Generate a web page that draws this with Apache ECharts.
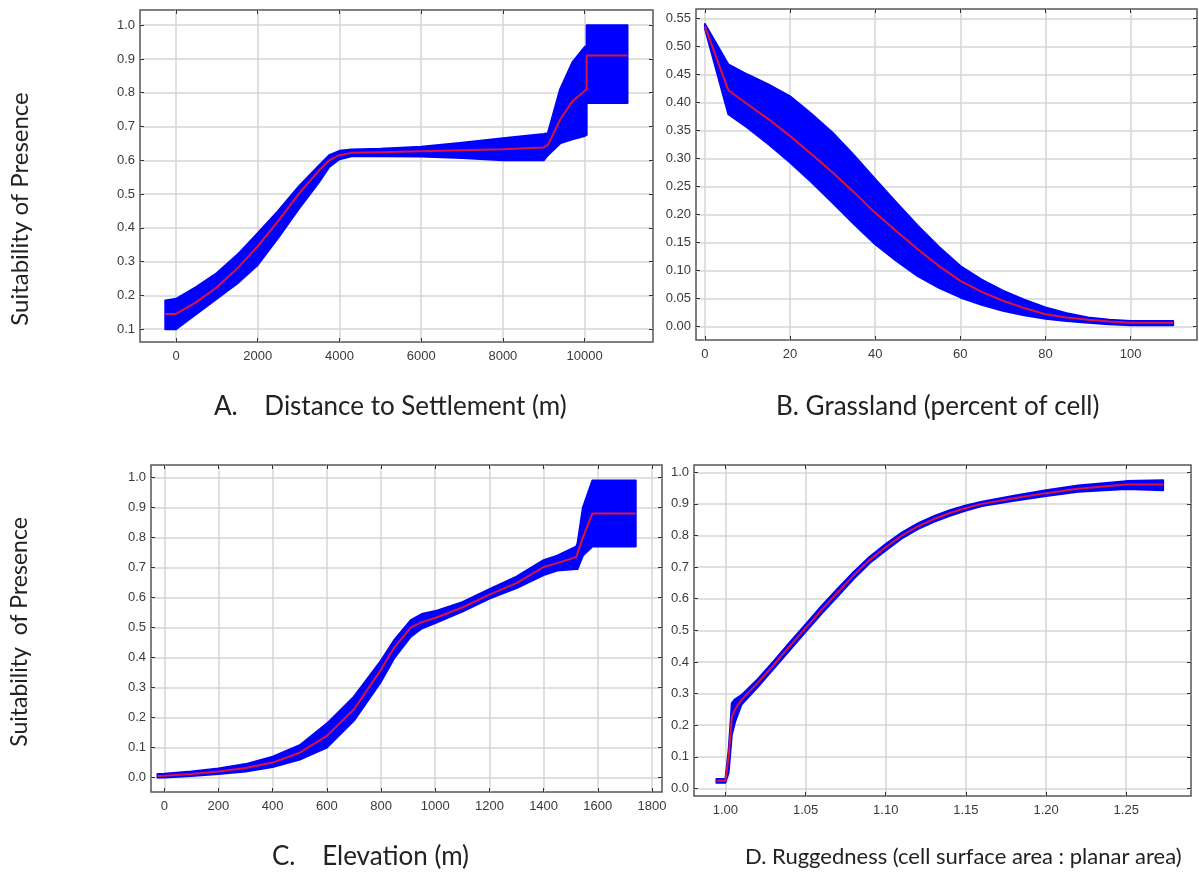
<!DOCTYPE html>
<html>
<head>
<meta charset="utf-8">
<script src="https://cdn.jsdelivr.net/npm/echarts@6/dist/echarts.min.js"></script>
<style>
  html, body { margin: 0; padding: 0; background: #fff; }
  #main { width: 1199px; height: 882px; }
</style>
</head>
<body>
<div id="main"></div>
<script>
// A. distance to settlement
var xA    = [-262, 0, 500, 1000, 1500, 2000, 2500, 3000, 3500, 3750, 4000, 4300, 5000, 6000, 7000, 8000, 9000, 9100, 9400, 9700, 10000, 10050, 10050, 11050];
var meanA = [0.145, 0.145, 0.18, 0.224, 0.28, 0.345, 0.42, 0.50, 0.57, 0.60, 0.615, 0.622, 0.624, 0.627, 0.630, 0.633, 0.638, 0.645, 0.72, 0.775, 0.805, 0.81, 0.91, 0.91];
var hiA   = [0.185, 0.19, 0.225, 0.266, 0.32, 0.384, 0.45, 0.522, 0.585, 0.615, 0.628, 0.632, 0.634, 0.640, 0.652, 0.665, 0.678, 0.68, 0.81, 0.89, 0.935, 0.94, 1.0, 1.0];
var loA   = [0.10, 0.10, 0.145, 0.19, 0.235, 0.29, 0.37, 0.455, 0.535, 0.58, 0.603, 0.612, 0.612, 0.611, 0.607, 0.60, 0.60, 0.615, 0.65, 0.662, 0.672, 0.675, 0.77, 0.77];
var xTicksA = [0, 2000, 4000, 6000, 8000, 10000];
var yTicksA = [0.1, 0.2, 0.3, 0.4, 0.5, 0.6, 0.7, 0.8, 0.9, 1.0];

// B. grassland
var xB    = [0, 5.5, 10, 15, 20, 25, 30, 35, 40, 45, 50, 55, 60, 65, 70, 75, 80, 85, 90, 95, 100, 110];
var meanB = [0.536, 0.422, 0.397, 0.37, 0.340, 0.308, 0.275, 0.24, 0.203, 0.17, 0.138, 0.108, 0.0815, 0.062, 0.046, 0.033, 0.022, 0.016, 0.012, 0.009, 0.007, 0.007];
var hiB   = [0.540, 0.468, 0.450, 0.432, 0.411, 0.38, 0.346, 0.306, 0.263, 0.221, 0.180, 0.142, 0.108, 0.084, 0.064, 0.048, 0.034, 0.024, 0.016, 0.012, 0.010, 0.010];
var loB   = [0.532, 0.379, 0.355, 0.325, 0.293, 0.258, 0.221, 0.183, 0.147, 0.117, 0.090, 0.069, 0.052, 0.039, 0.028, 0.020, 0.014, 0.010, 0.007, 0.004, 0.0024, 0.0024];
var xTicksB = [0, 20, 40, 60, 80, 100];
var yTicksB = [0, 0.05, 0.10, 0.15, 0.20, 0.25, 0.30, 0.35, 0.40, 0.45, 0.50, 0.55];

// C. elevation
var xC    = [-25, 0, 100, 200, 300, 400, 500, 600, 700, 800, 850, 910, 950, 1000, 1100, 1200, 1300, 1400, 1450, 1520, 1525, 1545, 1580, 1740];
var meanC = [0.005, 0.006, 0.012, 0.02, 0.032, 0.05, 0.083, 0.139, 0.228, 0.36, 0.435, 0.50, 0.518, 0.532, 0.567, 0.61, 0.648, 0.702, 0.715, 0.735, 0.74, 0.80, 0.88, 0.88];
var hiC   = [0.012, 0.013, 0.02, 0.03, 0.045, 0.07, 0.108, 0.18, 0.27, 0.39, 0.46, 0.525, 0.545, 0.555, 0.585, 0.628, 0.67, 0.725, 0.74, 0.77, 0.78, 0.90, 0.99, 0.99];
var loC   = [0.0, 0.0, 0.005, 0.012, 0.02, 0.035, 0.06, 0.10, 0.19, 0.32, 0.40, 0.47, 0.497, 0.515, 0.553, 0.597, 0.632, 0.675, 0.69, 0.695, 0.695, 0.74, 0.77, 0.77];
var xTicksC = [0, 200, 400, 600, 800, 1000, 1200, 1400, 1600, 1800];
var yTicksC = [0, 0.1, 0.2, 0.3, 0.4, 0.5, 0.6, 0.7, 0.8, 0.9, 1.0];

// D. ruggedness
var xD    = [0.9944, 1.0, 1.002, 1.004, 1.006, 1.01, 1.02, 1.03, 1.04, 1.05, 1.06, 1.07, 1.08, 1.09, 1.10, 1.11, 1.12, 1.13, 1.14, 1.15, 1.16, 1.18, 1.20, 1.22, 1.25, 1.273];
var meanD = [0.024, 0.024, 0.10, 0.227, 0.25, 0.28, 0.333, 0.39, 0.449, 0.507, 0.565, 0.62, 0.674, 0.723, 0.763, 0.80, 0.829, 0.852, 0.871, 0.887, 0.90, 0.918, 0.934, 0.948, 0.961, 0.961];
var hiD   = [0.03, 0.03, 0.12, 0.27, 0.282, 0.295, 0.345, 0.402, 0.461, 0.519, 0.577, 0.632, 0.685, 0.733, 0.773, 0.809, 0.838, 0.861, 0.88, 0.895, 0.907, 0.926, 0.943, 0.958, 0.972, 0.975];
var loD   = [0.018, 0.018, 0.05, 0.17, 0.21, 0.265, 0.32, 0.378, 0.437, 0.495, 0.553, 0.608, 0.663, 0.713, 0.753, 0.791, 0.82, 0.843, 0.862, 0.879, 0.893, 0.91, 0.925, 0.938, 0.947, 0.943];
var xTicksD = [1.00, 1.05, 1.10, 1.15, 1.20, 1.25];
var yTicksD = [0, 0.1, 0.2, 0.3, 0.4, 0.5, 0.6, 0.7, 0.8, 0.9, 1.0];

var captions = ['A.    Distance to Settlement (m)', 'B. Grassland (percent of cell)', 'C.    Elevation (m)', 'D. Ruggedness (cell surface area : planar area)'];
var yTitles = ['Suitability of Presence', 'Suitability  of Presence'];

var panels = [
  { grid: { left: 140, top: 10, width: 513, height: 332 }, xr: [-881, 11674], yr: [0.062, 1.045], xt: xTicksA, yt: yTicksA, xd: 0, yd: 1, x: xA, m: meanA, hi: hiA, lo: loA },
  { grid: { left: 696, top: 9, width: 501, height: 331 }, xr: [-2.1, 115.6], yr: [-0.024, 0.567], xt: xTicksB, yt: yTicksB, xd: 0, yd: 2, x: xB, m: meanB, hi: hiB, lo: loB },
  { grid: { left: 151, top: 465, width: 511, height: 327 }, xr: [-49, 1837], yr: [-0.048, 1.042], xt: xTicksC, yt: yTicksC, xd: 0, yd: 1, x: xC, m: meanC, hi: hiC, lo: loC },
  { grid: { left: 694, top: 465, width: 497, height: 331 }, xr: [0.9804, 1.2904], yr: [-0.024, 1.023], xt: xTicksD, yt: yTicksD, xd: 2, yd: 1, x: xD, m: meanD, hi: hiD, lo: loD }
];

var labelStyle = { color: '#3a3a3a', fontSize: 13, fontFamily: 'Liberation Sans, Arial, sans-serif' };
var tickStyle = { color: '#333', width: 1 };
var gridLine = { color: '#d6d6d6', width: 1.5 };

var grids = [], xAxes = [], yAxes = [], series = [];

panels.forEach(function (p, i) {
  grids.push(Object.assign({ show: true, borderColor: '#555', borderWidth: 1.5, backgroundColor: '#fff' }, p.grid));
  // bottom / left axes with labels and grid lines, top / right with ticks only
  ['bottom', 'top'].forEach(function (pos) {
    xAxes.push({
      type: 'value', gridIndex: i, position: pos, min: p.xr[0], max: p.xr[1],
      axisLine: { show: false, onZero: false },
      axisTick: { show: true, inside: true, length: 4, customValues: p.xt, lineStyle: tickStyle },
      axisLabel: pos === 'bottom'
        ? Object.assign({ margin: 8, customValues: p.xt, formatter: function (v) { return v.toFixed(p.xd); } }, labelStyle)
        : { show: false },
      splitLine: { show: pos === 'bottom', lineStyle: gridLine }
    });
  });
  ['left', 'right'].forEach(function (pos) {
    yAxes.push({
      type: 'value', gridIndex: i, position: pos, min: p.yr[0], max: p.yr[1],
      axisLine: { show: false, onZero: false },
      axisTick: { show: true, inside: true, length: 4, customValues: p.yt, lineStyle: tickStyle },
      axisLabel: pos === 'left'
        ? Object.assign({ margin: 5, customValues: p.yt, formatter: function (v) { return v.toFixed(p.yd); } }, labelStyle)
        : { show: false },
      splitLine: { show: pos === 'left', lineStyle: gridLine }
    });
  });

  // blue band between lower and upper bounds
  series.push({
    type: 'custom', xAxisIndex: 2 * i, yAxisIndex: 2 * i, silent: true, z: 2,
    data: [[p.x[0], p.lo[0]]],
    renderItem: function (params, api) {
      var pts = [];
      for (var k = 0; k < p.x.length; k++) pts.push(api.coord([p.x[k], p.hi[k]]));
      for (var j = p.x.length - 1; j >= 0; j--) pts.push(api.coord([p.x[j], p.lo[j]]));
      return { type: 'polygon', shape: { points: pts, smooth: 0 }, style: { fill: '#0000ff', stroke: '#0000ff', lineWidth: 2, lineJoin: 'round' } };
    }
  });
  // red mean line
  series.push({
    type: 'line', xAxisIndex: 2 * i, yAxisIndex: 2 * i, z: 3,
    showSymbol: false, silent: true,
    data: p.x.map(function (v, k) { return [v, p.m[k]]; }),
    lineStyle: { color: '#dc143c', width: 2 }
  });
});

var capFont = { fontSize: 26, fontFamily: 'Lato, sans-serif', fill: '#222' };
var capFontD = { fontSize: 22, fontFamily: 'Lato, sans-serif', fill: '#222' };
var sideFont = { fontFamily: 'Lato, sans-serif', fill: '#222', align: 'center', verticalAlign: 'middle' };
var graphic = [
  { type: 'text', left: 214, top: 394, style: Object.assign({ text: captions[0] }, capFont) },
  { type: 'text', left: 776, top: 394, style: Object.assign({ text: captions[1] }, capFont) },
  { type: 'text', left: 272, top: 844, style: Object.assign({ text: captions[2] }, capFont) },
  { type: 'text', left: 745, top: 846, style: Object.assign({ text: captions[3] }, capFontD) },
  { type: 'text', x: 20, y: 209, rotation: Math.PI / 2, style: Object.assign({ text: yTitles[0], fontSize: 24 }, sideFont) },
  { type: 'text', x: 20, y: 632, rotation: Math.PI / 2, style: Object.assign({ text: yTitles[1], fontSize: 23 }, sideFont) }
];

var chart = echarts.init(document.getElementById('main'));
chart.setOption({
  animation: false,
  grid: grids,
  xAxis: xAxes,
  yAxis: yAxes,
  series: series,
  graphic: graphic
});
</script>
</body>
</html>
